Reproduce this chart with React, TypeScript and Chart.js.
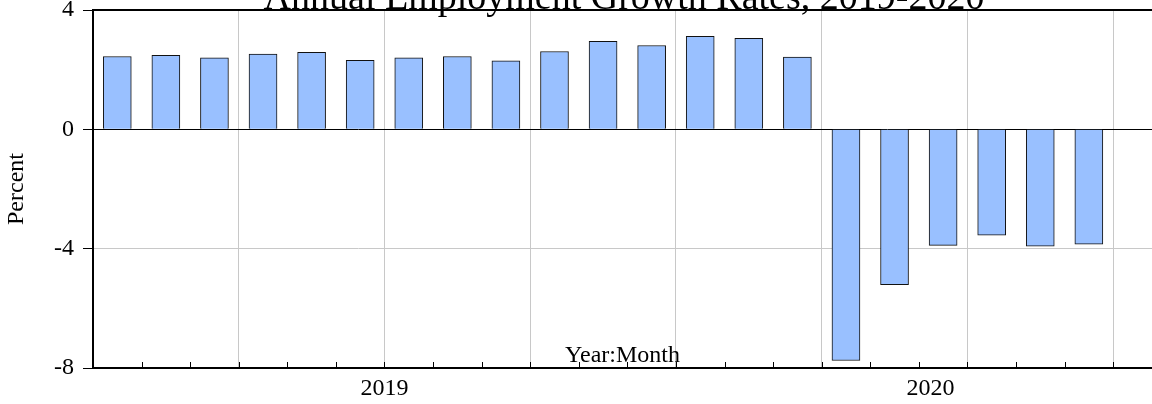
import React, { useEffect, useRef } from 'react';
import { Chart, registerables } from 'chart.js';

Chart.register(...registerables);

// ---- data ----
const months = [
  '2019M01', '2019M02', '2019M03', '2019M04', '2019M05', '2019M06',
  '2019M07', '2019M08', '2019M09', '2019M10', '2019M11', '2019M12',
  '2020M01', '2020M02', '2020M03', '2020M04', '2020M05', '2020M06',
  '2020M07', '2020M08', '2020M09',
];
const growth = [
  2.44, 2.48, 2.40, 2.52, 2.58, 2.31,
  2.40, 2.44, 2.30, 2.61, 2.95, 2.81,
  3.12, 3.05, 2.42, -7.75, -5.21, -3.89,
  -3.55, -3.92, -3.85,
];
const yTickValues = [4, 0, -4, -8];
const yearLabels = ['2019', '2020'];
const yearLabelAt = [6, 17.24]; // position along the month axis (months since 2019M01)
const xAxisMax = 21.8; // visible part of the month axis
const titleText = 'Annual Employment Growth Rates, 2019-2020';

const SERIF = '"Liberation Serif", "Times New Roman", serif';

export default function App() {
  const ref = useRef<HTMLCanvasElement | null>(null);

  useEffect(() => {
    if (!ref.current) return;
    Chart.defaults.font.family = SERIF;
    Chart.defaults.color = '#000';

    const framePlugin = {
      id: 'frame',
      afterDraw(chart: any) {
        const { ctx, chartArea } = chart;
        const xs = chart.scales.x;
        ctx.save();
        // top border
        ctx.strokeStyle = '#000';
        ctx.lineWidth = 2;
        ctx.beginPath();
        ctx.moveTo(chartArea.left, chartArea.top);
        ctx.lineTo(chartArea.right, chartArea.top);
        ctx.stroke();
        // inward minor month ticks
        ctx.lineWidth = 1;
        for (let i = 1; i <= months.length; i++) {
          const px = Math.round(xs.getPixelForValue(i)) + 0.5;
          ctx.beginPath();
          ctx.moveTo(px, chartArea.bottom);
          ctx.lineTo(px, chartArea.bottom - 6);
          ctx.stroke();
        }
        // title
        ctx.fillStyle = '#000';
        ctx.font = `38px ${SERIF}`;
        ctx.textAlign = 'center';
        ctx.textBaseline = 'alphabetic';
        ctx.fillText(titleText, 624, 9);
        ctx.restore();
      },
    };

    const chart = new Chart(ref.current, {
      type: 'bar',
      data: {
        labels: months,
        datasets: [
          {
            label: 'Employment growth',
            data: growth.map((v, i) => ({ x: i + 0.5, y: v })),
            backgroundColor: '#99C0FF',
            borderColor: '#111',
            borderWidth: 1,
            barThickness: 28,
          },
        ],
      },
      options: {
        animation: false,
        responsive: false,
        layout: { padding: { top: 10, left: 0, right: 0, bottom: 0 } },
        plugins: {
          legend: { display: false },
          tooltip: { enabled: false },
          title: { display: false },
        },
        scales: {
          x: {
            type: 'linear',
            min: 0,
            max: xAxisMax,
            offset: false,
            afterFit: (s: any) => { s.height = 36; s.paddingLeft = 0; s.paddingRight = 0; },
            afterBuildTicks: (s: any) => {
              const t: any[] = [];
              for (let i = 0; i <= months.length; i++) t.push({ value: i });
              yearLabelAt.forEach((v) => { if (!t.some((k) => k.value === v)) t.push({ value: v }); });
              s.ticks = t;
            },
            grid: {
              offset: false,
              drawTicks: false,
              color: (c: any) => {
                const v = c.tick ? c.tick.value : NaN;
                return Number.isInteger(v) && v % 3 === 0 ? '#c8c8c8' : 'rgba(0,0,0,0)';
              },
              lineWidth: 1,
            },
            border: { display: true, color: '#000', width: 2 },
            ticks: {
              autoSkip: false,
              maxRotation: 0,
              minRotation: 0,
              padding: 6,
              font: { size: 24, family: SERIF },
              color: '#000',
              callback: (value: any) => {
                const idx = yearLabelAt.indexOf(Number(value));
                return idx >= 0 ? yearLabels[idx] : '';
              },
            },
            title: {
              display: true,
              text: 'Year:Month',
              font: { size: 24, family: SERIF },
              color: '#000',
              padding: { top: 0, bottom: 34 },
            },
          },
          y: {
            type: 'linear',
            min: -8,
            max: 4,
            z: 1,
            afterFit: (s: any) => { s.width = 93; s.paddingTop = 0; s.paddingBottom = 0; },
            afterBuildTicks: (s: any) => {
              s.ticks = yTickValues.map((v) => ({ value: v }));
            },
            grid: {
              drawTicks: true,
              tickLength: 10,
              tickColor: '#000',
              color: (c: any) => {
                const v = c.tick ? c.tick.value : NaN;
                if (v === 0) return '#000';
                if (v === -4) return '#c8c8c8';
                return 'rgba(0,0,0,0)';
              },
              lineWidth: 1,
            },
            border: { display: true, color: '#000', width: 2 },
            ticks: {
              padding: 9,
              font: { size: 24, family: SERIF },
              color: '#000',
              callback: (v: any) => String(v),
            },
            title: {
              display: true,
              text: 'Percent',
              font: { size: 24, family: SERIF },
              color: '#000',
              padding: { top: 2, bottom: 0 },
            },
          },
        },
      },
      plugins: [framePlugin],
    } as any);

    return () => chart.destroy();
  }, []);

  return (
    <div style={{ position: 'fixed', left: 0, top: 0, width: 1152, height: 404, background: '#fff' }}>
      <canvas ref={ref} width={1152} height={404} style={{ display: 'block' }} />
    </div>
  );
}
